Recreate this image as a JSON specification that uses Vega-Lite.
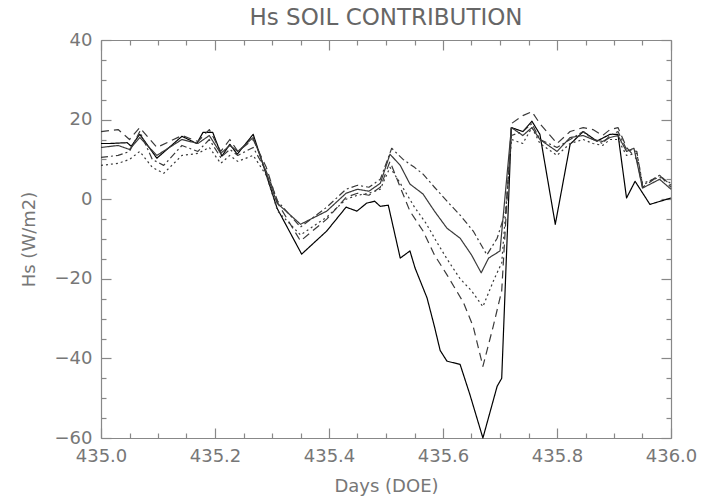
{
 "$schema": "https://vega.github.io/schema/vega-lite/v6.json",
 "width": 570, "height": 398,
 "autosize": {"type": "none"},
 "padding": {"left": 101, "top": 40, "right": 31, "bottom": 66},
 "background": "white",
 "title": {"text": "Hs SOIL CONTRIBUTION", "fontSize": 23, "fontWeight": "normal", "color": "#666", "font": "DejaVu Sans", "offset": 1, "anchor": "middle"},
 "config": {"view": {"stroke": null}, "axis": {"domainColor": "#888", "tickColor": "#888", "labelColor": "#777", "titleColor": "#777", "labelFont": "DejaVu Sans", "titleFont": "DejaVu Sans", "labelFontSize": 18, "titleFontSize": 18, "titleFontWeight": "normal", "grid": false, "domainWidth": 1.2, "tickWidth": 1.2}},
 "datasets": {
  "series": [
   {"s":"A","d":435.0,"v":14},{"s":"A","d":435.016,"v":14},{"s":"A","d":435.046,"v":14.2},{"s":"A","d":435.053,"v":13.3},{"s":"A","d":435.068,"v":16.3},{"s":"A","d":435.098,"v":10.3},{"s":"A","d":435.142,"v":15.8},{"s":"A","d":435.168,"v":14},{"s":"A","d":435.179,"v":16.8},{"s":"A","d":435.196,"v":16.8},{"s":"A","d":435.212,"v":10.8},{"s":"A","d":435.226,"v":13.8},{"s":"A","d":435.239,"v":11.3},{"s":"A","d":435.267,"v":16.3},{"s":"A","d":435.284,"v":8.8},{"s":"A","d":435.309,"v":-2.3},{"s":"A","d":435.352,"v":-13.8},{"s":"A","d":435.396,"v":-8},{"s":"A","d":435.43,"v":-2},{"s":"A","d":435.449,"v":-3},{"s":"A","d":435.466,"v":-1},{"s":"A","d":435.48,"v":-0.5},{"s":"A","d":435.49,"v":-1.8},{"s":"A","d":435.504,"v":-1.5},{"s":"A","d":435.525,"v":-14.8},{"s":"A","d":435.542,"v":-13},{"s":"A","d":435.551,"v":-17.3},{"s":"A","d":435.572,"v":-24.8},{"s":"A","d":435.585,"v":-32},{"s":"A","d":435.595,"v":-38},{"s":"A","d":435.607,"v":-40.7},{"s":"A","d":435.63,"v":-41.5},{"s":"A","d":435.647,"v":-49},{"s":"A","d":435.67,"v":-60},{"s":"A","d":435.695,"v":-47},{"s":"A","d":435.703,"v":-45},{"s":"A","d":435.72,"v":18},{"s":"A","d":435.74,"v":17},{"s":"A","d":435.756,"v":19.6},{"s":"A","d":435.77,"v":16.3},{"s":"A","d":435.797,"v":-6.3},{"s":"A","d":435.823,"v":13.8},{"s":"A","d":435.846,"v":17},{"s":"A","d":435.863,"v":15.3},{"s":"A","d":435.87,"v":14.6},{"s":"A","d":435.893,"v":16.3},{"s":"A","d":435.907,"v":16.3},{"s":"A","d":435.922,"v":0.3},{"s":"A","d":435.937,"v":4.5},{"s":"A","d":435.963,"v":-1.3},{"s":"A","d":436.0,"v":0.3},
   {"s":"B","d":435.0,"v":13},{"s":"B","d":435.03,"v":13.5},{"s":"B","d":435.05,"v":12.5},{"s":"B","d":435.068,"v":15.5},{"s":"B","d":435.098,"v":11},{"s":"B","d":435.142,"v":15},{"s":"B","d":435.17,"v":14},{"s":"B","d":435.19,"v":16},{"s":"B","d":435.21,"v":11.5},{"s":"B","d":435.226,"v":13.5},{"s":"B","d":435.24,"v":12},{"s":"B","d":435.267,"v":15.5},{"s":"B","d":435.284,"v":9},{"s":"B","d":435.309,"v":-1},{"s":"B","d":435.35,"v":-6.3},{"s":"B","d":435.396,"v":-3},{"s":"B","d":435.43,"v":1.5},{"s":"B","d":435.45,"v":2.5},{"s":"B","d":435.47,"v":2},{"s":"B","d":435.49,"v":4},{"s":"B","d":435.507,"v":11.3},{"s":"B","d":435.525,"v":8.5},{"s":"B","d":435.542,"v":3.8},{"s":"B","d":435.565,"v":1.3},{"s":"B","d":435.585,"v":-3},{"s":"B","d":435.607,"v":-7.3},{"s":"B","d":435.63,"v":-9.8},{"s":"B","d":435.65,"v":-14},{"s":"B","d":435.667,"v":-18.5},{"s":"B","d":435.68,"v":-14.8},{"s":"B","d":435.7,"v":-13},{"s":"B","d":435.72,"v":18},{"s":"B","d":435.74,"v":16},{"s":"B","d":435.756,"v":18},{"s":"B","d":435.77,"v":15},{"s":"B","d":435.8,"v":12},{"s":"B","d":435.823,"v":15.5},{"s":"B","d":435.846,"v":16},{"s":"B","d":435.863,"v":15},{"s":"B","d":435.88,"v":14.5},{"s":"B","d":435.893,"v":15.5},{"s":"B","d":435.907,"v":16},{"s":"B","d":435.922,"v":12},{"s":"B","d":435.935,"v":12.8},{"s":"B","d":435.95,"v":2.8},{"s":"B","d":435.98,"v":5},{"s":"B","d":436.0,"v":2.5},
   {"s":"C","d":435.0,"v":17},{"s":"C","d":435.03,"v":17.5},{"s":"C","d":435.05,"v":15},{"s":"C","d":435.068,"v":18},{"s":"C","d":435.098,"v":13},{"s":"C","d":435.142,"v":16},{"s":"C","d":435.17,"v":14.5},{"s":"C","d":435.19,"v":17.5},{"s":"C","d":435.21,"v":12},{"s":"C","d":435.226,"v":15},{"s":"C","d":435.24,"v":12},{"s":"C","d":435.267,"v":15},{"s":"C","d":435.29,"v":8},{"s":"C","d":435.31,"v":-1},{"s":"C","d":435.35,"v":-10.5},{"s":"C","d":435.396,"v":-5},{"s":"C","d":435.43,"v":0.5},{"s":"C","d":435.45,"v":1.5},{"s":"C","d":435.47,"v":1},{"s":"C","d":435.49,"v":3},{"s":"C","d":435.507,"v":9.5},{"s":"C","d":435.525,"v":3},{"s":"C","d":435.542,"v":-3},{"s":"C","d":435.565,"v":-8},{"s":"C","d":435.585,"v":-14},{"s":"C","d":435.607,"v":-19},{"s":"C","d":435.636,"v":-26},{"s":"C","d":435.653,"v":-32},{"s":"C","d":435.67,"v":-42},{"s":"C","d":435.688,"v":-32},{"s":"C","d":435.703,"v":-23},{"s":"C","d":435.72,"v":19},{"s":"C","d":435.74,"v":21},{"s":"C","d":435.756,"v":22},{"s":"C","d":435.77,"v":19},{"s":"C","d":435.8,"v":14},{"s":"C","d":435.823,"v":17},{"s":"C","d":435.846,"v":18},{"s":"C","d":435.863,"v":17.5},{"s":"C","d":435.88,"v":16},{"s":"C","d":435.893,"v":17.5},{"s":"C","d":435.907,"v":18},{"s":"C","d":435.922,"v":13},{"s":"C","d":435.94,"v":10},{"s":"C","d":435.95,"v":3},{"s":"C","d":435.98,"v":6},{"s":"C","d":436.0,"v":3},
   {"s":"D","d":435.0,"v":8.5},{"s":"D","d":435.03,"v":9},{"s":"D","d":435.05,"v":10},{"s":"D","d":435.068,"v":12},{"s":"D","d":435.09,"v":8},{"s":"D","d":435.11,"v":6.5},{"s":"D","d":435.142,"v":11},{"s":"D","d":435.17,"v":11.5},{"s":"D","d":435.19,"v":13},{"s":"D","d":435.21,"v":9},{"s":"D","d":435.226,"v":11},{"s":"D","d":435.24,"v":9.5},{"s":"D","d":435.267,"v":11},{"s":"D","d":435.29,"v":6},{"s":"D","d":435.31,"v":-3},{"s":"D","d":435.35,"v":-9},{"s":"D","d":435.396,"v":-4.5},{"s":"D","d":435.43,"v":0},{"s":"D","d":435.45,"v":1},{"s":"D","d":435.47,"v":1.5},{"s":"D","d":435.49,"v":2.5},{"s":"D","d":435.507,"v":8},{"s":"D","d":435.525,"v":4},{"s":"D","d":435.55,"v":-2},{"s":"D","d":435.57,"v":-6},{"s":"D","d":435.59,"v":-11},{"s":"D","d":435.607,"v":-15},{"s":"D","d":435.63,"v":-20},{"s":"D","d":435.65,"v":-23},{"s":"D","d":435.67,"v":-27},{"s":"D","d":435.69,"v":-20},{"s":"D","d":435.703,"v":-16},{"s":"D","d":435.72,"v":15},{"s":"D","d":435.74,"v":14},{"s":"D","d":435.756,"v":18},{"s":"D","d":435.77,"v":14},{"s":"D","d":435.8,"v":11},{"s":"D","d":435.823,"v":14},{"s":"D","d":435.846,"v":15},{"s":"D","d":435.863,"v":14},{"s":"D","d":435.88,"v":13.5},{"s":"D","d":435.893,"v":15},{"s":"D","d":435.907,"v":15},{"s":"D","d":435.922,"v":11},{"s":"D","d":435.94,"v":11.5},{"s":"D","d":435.95,"v":4},{"s":"D","d":435.98,"v":5.5},{"s":"D","d":436.0,"v":4},
   {"s":"E","d":435.0,"v":10.5},{"s":"E","d":435.03,"v":11},{"s":"E","d":435.05,"v":12},{"s":"E","d":435.068,"v":17},{"s":"E","d":435.09,"v":10},{"s":"E","d":435.11,"v":8.5},{"s":"E","d":435.142,"v":13.5},{"s":"E","d":435.17,"v":12},{"s":"E","d":435.19,"v":15},{"s":"E","d":435.21,"v":10.5},{"s":"E","d":435.226,"v":12.5},{"s":"E","d":435.24,"v":11},{"s":"E","d":435.267,"v":13},{"s":"E","d":435.29,"v":7},{"s":"E","d":435.31,"v":-0.5},{"s":"E","d":435.35,"v":-7},{"s":"E","d":435.396,"v":-2},{"s":"E","d":435.43,"v":2.5},{"s":"E","d":435.45,"v":3.5},{"s":"E","d":435.47,"v":3},{"s":"E","d":435.49,"v":5},{"s":"E","d":435.51,"v":12.8},{"s":"E","d":435.53,"v":10},{"s":"E","d":435.55,"v":8},{"s":"E","d":435.565,"v":6.3},{"s":"E","d":435.585,"v":3},{"s":"E","d":435.607,"v":-0.5},{"s":"E","d":435.63,"v":-4},{"s":"E","d":435.653,"v":-8},{"s":"E","d":435.677,"v":-14},{"s":"E","d":435.695,"v":-9.8},{"s":"E","d":435.71,"v":-3},{"s":"E","d":435.72,"v":16},{"s":"E","d":435.74,"v":17},{"s":"E","d":435.756,"v":19},{"s":"E","d":435.77,"v":15},{"s":"E","d":435.8,"v":13},{"s":"E","d":435.823,"v":15},{"s":"E","d":435.846,"v":17},{"s":"E","d":435.863,"v":15},{"s":"E","d":435.88,"v":14},{"s":"E","d":435.893,"v":16},{"s":"E","d":435.907,"v":17},{"s":"E","d":435.922,"v":12.5},{"s":"E","d":435.94,"v":12},{"s":"E","d":435.95,"v":3.5},{"s":"E","d":435.98,"v":6},{"s":"E","d":436.0,"v":3.5}
  ]
 },
 "data": {"name": "series"},
 "layer": [
  {
   "mark": {"type": "line", "strokeJoin": "round", "strokeCap": "butt"},
   "encoding": {
    "x": {"field": "d", "type": "quantitative", "scale": {"domain": [435, 436], "nice": false, "zero": false},
      "axis": {"orient": "bottom", "title": "Days (DOE)", "values": [435,435.05,435.1,435.15,435.2,435.25,435.3,435.35,435.4,435.45,435.5,435.55,435.6,435.65,435.7,435.75,435.8,435.85,435.9,435.95,436],
        "labelExpr": "abs(datum.value*5 - round(datum.value*5)) < 0.001 ? format(datum.value, '.1f') : ''",
        "tickSize": {"condition": {"test": "abs(datum.value*5 - round(datum.value*5)) < 0.001", "value": -10}, "value": -5},
        "labelPadding": 19, "labelOverlap": false, "labelFlush": false, "labelBound": false, "titlePadding": 7}},
    "y": {"field": "v", "type": "quantitative", "scale": {"domain": [-60, 40], "nice": false, "zero": false},
      "axis": {"orient": "left", "title": "Hs (W/m2)", "values": [-60,-55,-50,-45,-40,-35,-30,-25,-20,-15,-10,-5,0,5,10,15,20,25,30,35,40],
        "labelExpr": "datum.value % 20 == 0 ? datum.label : ''",
        "tickSize": {"condition": {"test": "datum.value % 20 == 0", "value": -10}, "value": -5},
        "labelPadding": 19, "labelOverlap": false, "labelFlush": false, "labelBound": false, "titlePadding": 16}},
    "color": {"field": "s", "type": "nominal", "scale": {"domain": ["B","C","D","E","A"], "range": ["#3a3a3a","#3a3a3a","#3a3a3a","#3a3a3a","#000"]}, "legend": null},
    "strokeDash": {"field": "s", "type": "nominal", "scale": {"domain": ["B","C","D","E","A"], "range": [[1,0],[8,5],[2,3],[7,3,2,3],[1,0]]}, "legend": null},
    "strokeWidth": {"field": "s", "type": "nominal", "scale": {"domain": ["B","C","D","E","A"], "range": [1.2,1.2,1.2,1.2,2.6]}, "legend": null}
   }
  },
  {
   "mark": {"type": "point", "opacity": 0},
   "encoding": {
    "x": {"field": "d", "type": "quantitative", "scale": {"domain": [435, 436], "nice": false, "zero": false},
      "axis": {"orient": "top", "title": null, "labels": false, "values": [435,435.05,435.1,435.15,435.2,435.25,435.3,435.35,435.4,435.45,435.5,435.55,435.6,435.65,435.7,435.75,435.8,435.85,435.9,435.95,436],
        "tickSize": {"condition": {"test": "abs(datum.value*5 - round(datum.value*5)) < 0.001", "value": -10}, "value": -5}}},
    "y": {"field": "v", "type": "quantitative", "scale": {"domain": [-60, 40], "nice": false, "zero": false},
      "axis": {"orient": "right", "title": null, "labels": false, "values": [-60,-55,-50,-45,-40,-35,-30,-25,-20,-15,-10,-5,0,5,10,15,20,25,30,35,40],
        "tickSize": {"condition": {"test": "datum.value % 20 == 0", "value": -10}, "value": -5}}}
   }
  }
 ],
 "resolve": {"axis": {"x": "independent", "y": "independent"}}
}
